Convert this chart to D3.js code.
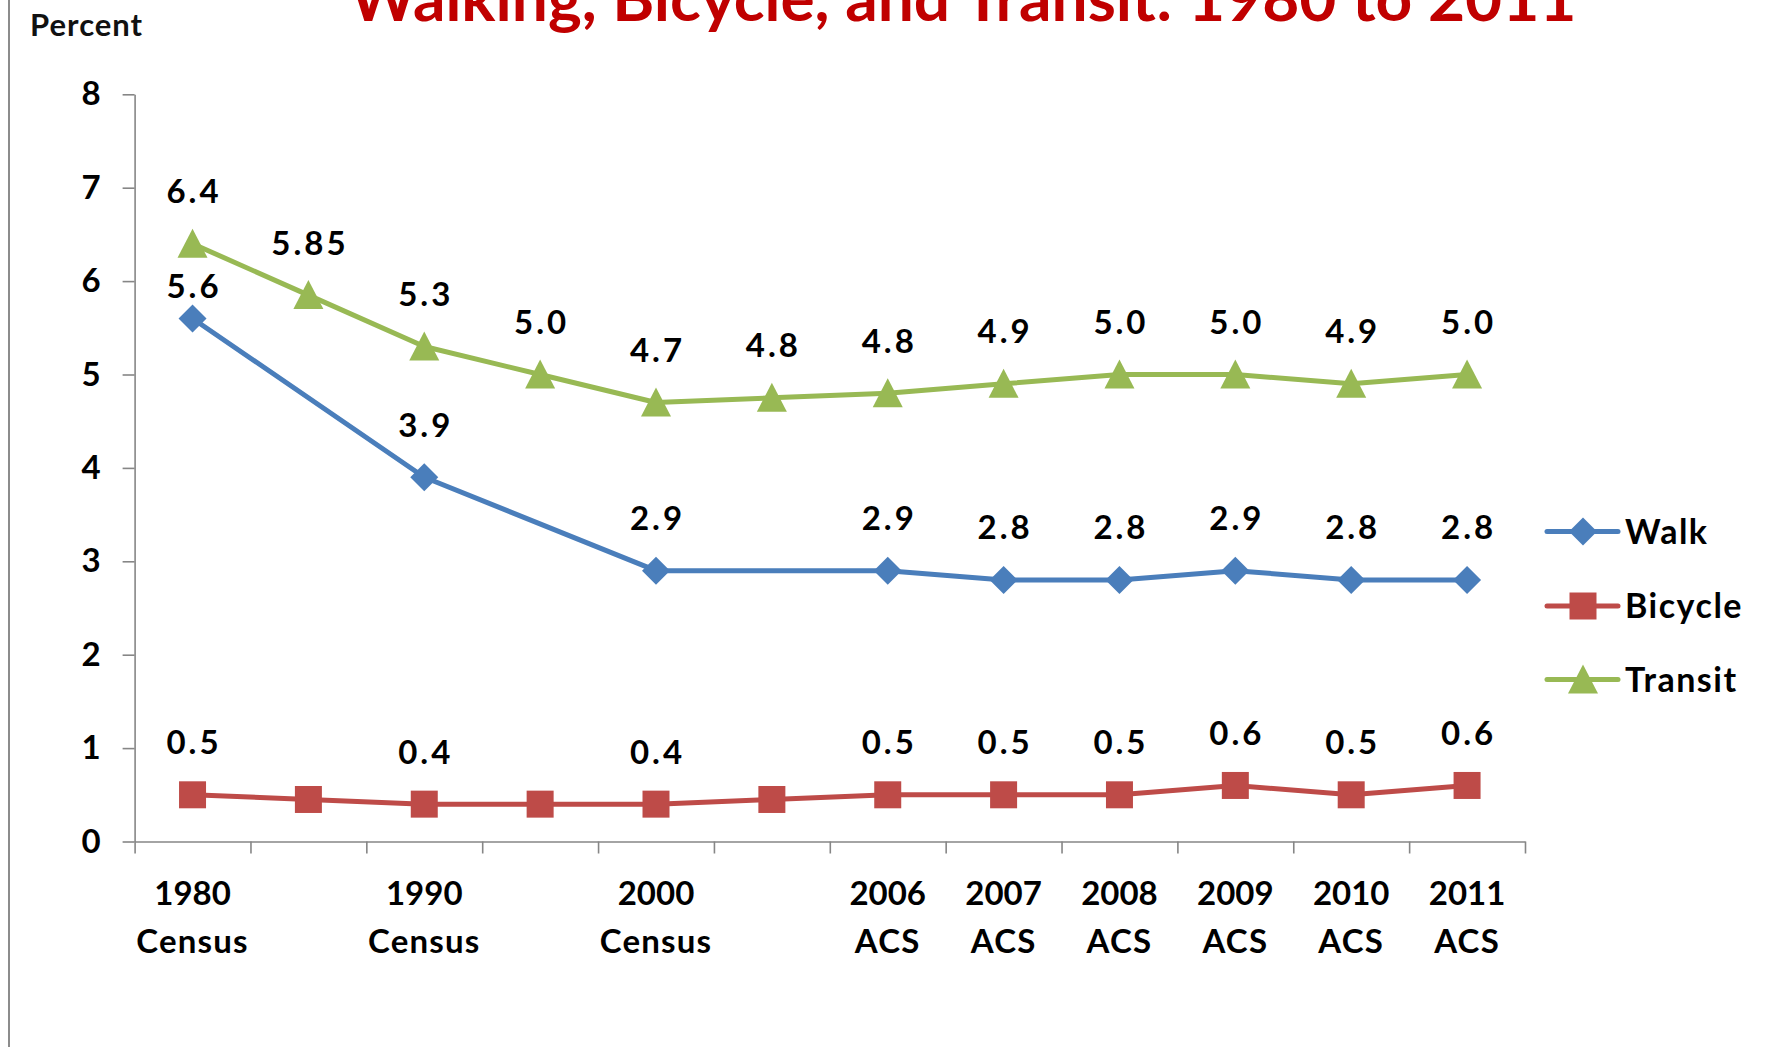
<!DOCTYPE html>
<html>
<head>
<meta charset="utf-8">
<script src="https://cdn.jsdelivr.net/npm/d3@7"></script>
<style>
  body { margin: 0; background: #fff; }
  svg { display: block; }
  text { font-family: Lato, "Open Sans", sans-serif; }
</style>
</head>
<body>
<div id="chart"></div>
<script>
// Catégories (une par point), avec les deux lignes d'étiquettes de l'axe X
const categories = ["1980", "1985", "1990", "1995", "2000", "2005", "2006", "2007", "2008", "2009", "2010", "2011"];
const tickLine1 = ["1980", "", "1990", "", "2000", "", "2006", "2007", "2008", "2009", "2010", "2011"];
const tickLine2 = ["Census", "", "Census", "", "Census", "", "ACS", "ACS", "ACS", "ACS", "ACS", "ACS"];

// Valeurs des séries (null = pas de point)
const walk    = [5.6, null, 3.9, null, 2.9, null, 2.9, 2.8, 2.8, 2.9, 2.8, 2.8];
const bicycle = [0.5, 0.45, 0.4, 0.4, 0.4, 0.45, 0.5, 0.5, 0.5, 0.6, 0.5, 0.6];
const transit = [6.4, 5.85, 5.3, 5.0, 4.7, 4.75, 4.8, 4.9, 5.0, 5.0, 4.9, 5.0];

// Étiquettes de données affichées au-dessus des points
const walkLabels    = ["5.6", "", "3.9", "", "2.9", "", "2.9", "2.8", "2.8", "2.9", "2.8", "2.8"];
const bicycleLabels = ["0.5", "", "0.4", "", "0.4", "", "0.5", "0.5", "0.5", "0.6", "0.5", "0.6"];
const transitLabels = ["6.4", "5.85", "5.3", "5.0", "4.7", "4.8", "4.8", "4.9", "5.0", "5.0", "4.9", "5.0"];

const yTicks = [0, 1, 2, 3, 4, 5, 6, 7, 8];
const seriesNames = ["Walk", "Bicycle", "Transit"];

const W = 1773, H = 1047;
const plotLeft = 134.6, plotRight = 1525, plotTop = 94.3, plotBottom = 841.5;
const axisColor = "#868686";
const bigFont = 33;

const series = [
    { name: seriesNames[0], values: walk,    labels: walkLabels,    color: "#4A7EBB", marker: "diamond" },
    { name: seriesNames[1], values: bicycle, labels: bicycleLabels, color: "#BE4B48", marker: "square" },
    { name: seriesNames[2], values: transit, labels: transitLabels, color: "#98B954", marker: "triangle" }
];

// Formes des marqueurs façon Excel, centrées sur (0, 0)
function markerPath(kind) {
    switch (kind) {
        case "diamond":  return "M0,-14 L14,0 L0,14 L-14,0 Z";
        case "square":   return "M-13.5,-13.5 H13.5 V13.5 H-13.5 Z";
        case "triangle": return "M0,-15 L15,14 L-15,14 Z";
    }
}

const svg = d3.select("#chart").append("svg")
    .attr("width", W)
    .attr("height", H);

svg.append("rect").attr("width", W).attr("height", H).attr("fill", "#fff");

// Bordure grise à gauche
svg.append("line")
    .attr("x1", 9).attr("x2", 9).attr("y1", 0).attr("y2", H)
    .attr("stroke", "#8c8c8c").attr("stroke-width", 2);

// Titre (coupé en haut, comme sur l'image)
const title = svg.append("text")
    .attr("x", 963).attr("y", 21)
    .attr("text-anchor", "middle")
    .attr("fill", "#C00000")
    .attr("font-weight", 700)
    .attr("font-size", 54)
    .text("Walking, Bicycle, and Transit: 1980 to 2011");
let tw = title.node().getComputedTextLength();
title.attr("font-size", 54 * 1227 / tw);

svg.append("text")
    .attr("x", 30).attr("y", 36)
    .attr("font-size", 31)
    .attr("font-weight", 700)
    .attr("letter-spacing", 1)
    .attr("fill", "#111")
    .text("Percent");

// Échelles
const x = d3.scaleBand().domain(categories).range([plotLeft, plotRight]);
const xEdges = d3.scaleLinear().domain([0, categories.length]).range([plotLeft, plotRight]);
const y = d3.scaleLinear().domain([0, 8]).range([plotBottom, plotTop]);
const cx = c => x(c) + x.bandwidth() / 2;

// Axe Y
const yAxis = svg.append("g")
    .attr("transform", `translate(${plotLeft},0)`)
    .call(d3.axisLeft(y).tickValues(yTicks).tickSize(12).tickSizeOuter(0).tickPadding(22).tickFormat(d3.format("d")));
yAxis.select(".domain").attr("stroke", axisColor).attr("stroke-width", 1.6);
yAxis.selectAll(".tick line").attr("stroke", axisColor).attr("stroke-width", 1.6);
yAxis.selectAll(".tick text")
    .attr("font-family", "Lato, sans-serif")
    .attr("font-size", bigFont).attr("font-weight", 700).attr("fill", "#000");

// Axe X : graduations aux limites des catégories
const xAxis = svg.append("g")
    .attr("transform", `translate(0,${plotBottom})`)
    .call(d3.axisBottom(xEdges).tickValues(d3.range(categories.length + 1)).tickSize(12).tickSizeOuter(0).tickFormat(""));
xAxis.select(".domain").attr("stroke", axisColor).attr("stroke-width", 1.6);
xAxis.selectAll(".tick line").attr("stroke", axisColor).attr("stroke-width", 1.6);

const xLabels = svg.append("g").selectAll("text")
    .data(categories)
    .join("text")
    .attr("x", d => cx(d))
    .attr("text-anchor", "middle")
    .attr("font-size", bigFont).attr("font-weight", 700).attr("fill", "#000");
xLabels.append("tspan").attr("x", d => cx(d)).attr("y", 905).text((d, i) => tickLine1[i]);
xLabels.append("tspan").attr("x", d => cx(d)).attr("y", 953)
    .attr("letter-spacing", 1.2)
    .text((d, i) => tickLine2[i]);

// Séries : lignes, marqueurs, étiquettes
const line = d3.line().x(d => cx(d.c)).y(d => y(d.v));

for (const s of series) {
    const pts = categories.map((c, i) => ({ c: c, v: s.values[i], label: s.labels[i], i: i }))
        .filter(d => d.v != null);

    svg.append("path")
        .attr("d", line(pts))
        .attr("fill", "none")
        .attr("stroke", s.color)
        .attr("stroke-width", 5)
        .attr("stroke-linejoin", "round");

    svg.append("g").selectAll("path")
        .data(pts)
        .join("path")
        .attr("d", markerPath(s.marker))
        .attr("transform", d => `translate(${cx(d.c)},${y(d.v)})`)
        .attr("fill", s.color);

    svg.append("g").selectAll("text")
        .data(pts.filter(d => d.label !== ""))
        .join("text")
        .attr("x", d => cx(d.c) + 1.5)
        // l'étiquette 5.6 est rapprochée du point pour ne pas chevaucher la ligne Transit
        .attr("y", d => y(d.v) - ((s.name === "Walk" && d.i === 0) ? 32 : 52.5) + 12)
        .attr("text-anchor", "middle")
        .attr("letter-spacing", 3)
        .attr("font-size", bigFont).attr("font-weight", 700).attr("fill", "#000")
        .text(d => d.label);
}

// Légende
const legendY = [531.5, 606, 679.5];
series.forEach((s, i) => {
    const g = svg.append("g").attr("transform", `translate(0,${legendY[i]})`);
    g.append("line")
        .attr("x1", 1547).attr("x2", 1618)
        .attr("stroke", s.color).attr("stroke-width", 5).attr("stroke-linecap", "round");
    g.append("path")
        .attr("d", markerPath(s.marker))
        .attr("transform", "translate(1583,0)")
        .attr("fill", s.color);
    g.append("text")
        .attr("x", 1625).attr("y", 12)
        .attr("font-size", bigFont + 1).attr("font-weight", 700).attr("fill", "#000")
        .attr("letter-spacing", 1.5)
        .text(s.name);
});
</script>
</body>
</html>
